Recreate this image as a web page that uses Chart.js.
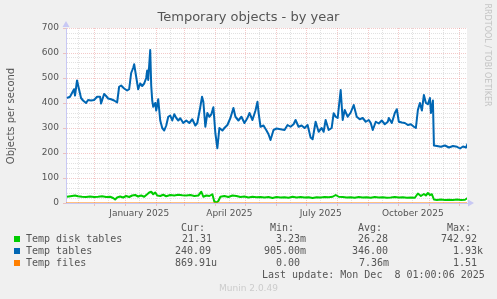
<!DOCTYPE html>
<html>
<head>
<meta charset="utf-8">
<script src="https://cdn.jsdelivr.net/npm/chart.js@4/dist/chart.umd.min.js"></script>
<style>
  body { margin: 0; background: #f0f0f0; }
  #wrap { position: relative; width: 497px; height: 299px; overflow: hidden; background: #f0f0f0; }
  #chart { position: absolute; left: 0; top: 0; }
  .t { position: absolute; white-space: pre; color: #555; }
  .mono { font-family: "DejaVu Sans Mono", monospace; font-size: 10px; line-height: 12px; }
  .sq { position: absolute; width: 6px; height: 6px; }
</style>
</head>
<body>
<div id="wrap">
  <canvas id="chart" width="497" height="299"></canvas>
  <div class="t" id="title" style="left:0;width:497px;text-align:center;top:9px;font:13px 'DejaVu Sans';">Temporary objects - by year</div>
  <div class="t" style="left:-45px;top:110px;width:112px;text-align:center;font:10px 'DejaVu Sans';line-height:12px;transform:rotate(-90deg);">Objects per second</div>
  <div class="t" style="left:432px;top:50px;width:110px;text-align:center;font:8px 'DejaVu Sans';line-height:10px;color:#c4c4c4;transform:rotate(90deg);">RRDTOOL / TOBI OETIKER</div>

  <div class="sq" style="left:14px;top:236px;background:#00cc00"></div>
  <div class="sq" style="left:14px;top:248px;background:#0066b3"></div>
  <div class="sq" style="left:14px;top:260px;background:#ff8000"></div>

  <div class="t mono" style="left:26px;top:233px">Temp disk tables</div>
  <div class="t mono" style="left:26px;top:245px">Temp tables</div>
  <div class="t mono" style="left:26px;top:257px">Temp files</div>

  <div class="t mono" style="left:181px;top:222px">Cur:</div>
  <div class="t mono" style="left:270px;top:222px">Min:</div>
  <div class="t mono" style="left:358px;top:222px">Avg:</div>
  <div class="t mono" style="left:447px;top:222px">Max:</div>

  <div class="t mono" style="left:182px;top:233px">21.31</div>
  <div class="t mono" style="left:276px;top:233px">3.23m</div>
  <div class="t mono" style="left:358px;top:233px">26.28</div>
  <div class="t mono" style="left:441px;top:233px">742.92</div>

  <div class="t mono" style="left:175px;top:245px">240.09</div>
  <div class="t mono" style="left:264px;top:245px">905.00m</div>
  <div class="t mono" style="left:352px;top:245px">346.00</div>
  <div class="t mono" style="left:453px;top:245px">1.93k</div>

  <div class="t mono" style="left:175px;top:257px">869.91u</div>
  <div class="t mono" style="left:276px;top:257px">0.00</div>
  <div class="t mono" style="left:359px;top:257px">7.36m</div>
  <div class="t mono" style="left:453px;top:257px">1.51</div>

  <div class="t mono" style="left:262px;top:269px">Last update: Mon Dec  8 01:00:06 2025</div>
  <div class="t" style="left:0;width:497px;text-align:center;top:283px;font:9px 'DejaVu Sans';color:#cccccc;">Munin 2.0.49</div>
</div>
<script>
// days counted from Nov 3 2024 (start of the 400 day window)
const monthStartDays = [28, 59, 90, 118, 149, 179, 210, 240, 271, 302, 332, 363, 393];
const midMonthDays = [12, 42, 73, 104, 132, 163, 193, 224, 254, 285, 316, 346, 377];
const labelDays = [73, 163, 254, 346];
const labelTexts = ['January 2025', 'April 2025', 'July 2025', 'October 2025'];

const tablesDays = [1, 4, 6, 8, 9, 11, 13, 15, 17, 20, 22, 25, 28, 31, 34, 35, 38, 40, 42, 45, 48, 51,
  53, 55, 58, 61, 63, 65, 67, 68, 70, 72, 74, 76, 78, 80, 81, 82, 84, 85, 86, 87, 89, 90, 92,
  94, 96, 98, 100, 102, 104, 106, 108, 110, 112, 114, 117, 120, 123, 126, 129, 131, 134, 135.7,
  137, 139, 141, 143, 145, 147, 149, 151, 153, 156, 158, 161, 164, 167, 169, 172, 175, 178, 181,
  183, 186, 189, 191, 192, 194, 197, 200, 202, 204, 207, 210, 214, 218, 221, 224, 227, 229, 232,
  235, 238, 241, 244, 246, 249, 252, 255, 257, 259, 262, 265, 267, 269, 271, 274, 276, 278, 281,
  284, 287, 290, 293, 296, 299, 302, 304, 306, 309, 312, 315, 318, 321, 322, 325, 328, 330, 332,
  335, 338, 341, 344, 347, 349, 351, 353, 355, 357, 359, 361, 363, 364, 366, 367, 370, 374, 378,
  382, 386, 390, 393, 396, 399, 401];
const tablesValues = [420, 425, 440, 455, 430, 490, 455, 420, 410, 400, 412, 410, 412, 425, 425, 398,
  436, 428, 418, 415, 410, 402, 465, 470, 458, 450, 455, 520, 540, 555, 505, 455, 478, 468, 478,
  500, 530, 492, 612, 470, 410, 385, 400, 370, 415, 330, 300, 290, 310, 345, 350, 330, 355, 340,
  330, 339, 320, 330, 320, 335, 310, 320, 385, 425, 405, 305, 360, 345, 355, 383, 279, 219, 300,
  290, 300, 312, 340, 380, 345, 330, 345, 320, 340, 360, 332, 370, 405, 365, 305, 310, 290, 275,
  252, 292, 298, 295, 292, 312, 305, 315, 332, 305, 310, 300, 312, 262, 255, 325, 285, 300, 285,
  332, 292, 300, 359, 345, 340, 452, 332, 372, 345, 362, 392, 345, 335, 340, 325, 332, 320, 292,
  325, 318, 330, 315, 325, 340, 320, 360, 375, 325, 322, 320, 312, 315, 305, 300, 372, 400, 370,
  432, 400, 395, 420, 360, 410, 230, 228, 225, 230, 222, 228, 225, 218, 226, 222, 240];

const diskDays = [1, 6, 9, 12, 16, 20, 24, 28, 32, 36, 40, 44, 47, 49, 51, 54, 57, 60, 63, 66, 69,
  72, 75, 78, 81, 83, 85, 87, 89, 91, 94, 97, 100, 104, 108, 112, 116, 120, 124, 128, 132, 135, 137,
  140, 143, 146, 148, 150, 152, 154, 158, 162, 166, 170, 174, 178, 182, 186, 190, 194, 198, 202,
  206, 210, 214, 218, 222, 226, 230, 234, 238, 242, 246, 250, 254, 258, 262, 266, 269, 272, 276,
  280, 284, 288, 292, 296, 300, 304, 308, 312, 316, 320, 324, 328, 332, 336, 340, 344, 348, 351,
  354, 357, 359, 361, 363, 365, 367, 370, 374, 378, 382, 386, 390, 394, 398, 401];
const diskValues = [25, 28, 30, 27, 25, 24, 26, 24, 25, 27, 24, 25, 20, 14, 22, 26, 22, 28, 24, 30,
  32, 26, 30, 25, 35, 42, 45, 35, 42, 30, 28, 33, 27, 32, 30, 33, 31, 30, 32, 28, 30, 45, 25, 30,
  28, 35, 5, 2, 8, 25, 28, 24, 30, 28, 24, 26, 22, 25, 23, 24, 22, 24, 20, 24, 22, 23, 21, 25, 22,
  24, 22, 23, 20, 23, 22, 24, 23, 25, 32, 25, 24, 22, 23, 21, 24, 22, 23, 21, 24, 22, 23, 21, 22,
  24, 22, 23, 21, 22, 21, 38, 28, 36, 30, 40, 32, 35, 14, 12, 14, 12, 13, 12, 14, 12, 13, 21];

const filesDays = [0, 400];
const filesValues = [0, 0];

const pts = (xs, ys) => xs.map((x, i) => ({ x: x, y: ys[i] }));

const RED = 'rgba(225,120,120,0.4)';
const GREY = 'rgba(170,170,170,0.35)';
const AXIS = '#c8c8f4';

const arrows = {
  id: 'arrows',
  afterDraw(chart) {
    const a = chart.chartArea, ctx = chart.ctx;
    ctx.save();
    ctx.fillStyle = AXIS;
    ctx.beginPath();
    ctx.moveTo(a.left - 3.5, a.top - 1);
    ctx.lineTo(a.left + 3.5, a.top - 1);
    ctx.lineTo(a.left, a.top - 7);
    ctx.fill();
    ctx.beginPath();
    ctx.moveTo(a.right + 1, a.bottom - 3.5);
    ctx.lineTo(a.right + 1, a.bottom + 3.5);
    ctx.lineTo(a.right + 7, a.bottom);
    ctx.fill();
    ctx.restore();
  }
};

const bg = {
  id: 'bg',
  beforeDraw(chart) {
    const a = chart.chartArea, ctx = chart.ctx;
    ctx.save();
    ctx.fillStyle = '#ffffff';
    ctx.fillRect(a.left, a.top, a.right - a.left, a.bottom - a.top);
    ctx.restore();
  }
};

Chart.defaults.font.family = 'DejaVu Sans';
Chart.defaults.font.size = 9;
Chart.defaults.color = '#555555';

new Chart(document.getElementById('chart').getContext('2d'), {
  type: 'line',
  data: {
    datasets: [
      { label: 'Temp files', data: pts(filesDays, filesValues), borderColor: '#ff8000', borderWidth: 1 },
      { label: 'Temp tables', data: pts(tablesDays, tablesValues), borderColor: '#0066b3', borderWidth: 2 },
      { label: 'Temp disk tables', data: pts(diskDays, diskValues), borderColor: '#00cc00', borderWidth: 2 }
    ]
  },
  options: {
    responsive: false,
    devicePixelRatio: 1,
    animation: false,
    events: [],
    layout: { padding: { left: 20, right: 30, top: 28, bottom: 76 } },
    elements: { point: { radius: 0 }, line: { tension: 0, borderJoinStyle: 'round' } },
    plugins: { legend: { display: false }, tooltip: { enabled: false } },
    scales: {
      x: {
        type: 'linear',
        min: 0,
        max: 400,
        afterFit: (s) => { s.height = 20; },
        afterBuildTicks: (s) => {
          s.ticks = monthStartDays.concat(midMonthDays).sort((a, b) => a - b).map(v => ({ value: v }));
        },
        ticks: {
          autoSkip: false,
          maxRotation: 0,
          padding: 2,
          callback: (v) => {
            const i = labelDays.indexOf(v);
            return i >= 0 ? labelTexts[i] : '';
          }
        },
        grid: {
          color: (c) => monthStartDays.includes(c.tick.value) ? RED : GREY,
          tickColor: (c) => monthStartDays.includes(c.tick.value) ? RED : 'rgba(0,0,0,0)',
          tickLength: 3,
          tickBorderDash: []
        },
        border: { color: AXIS, dash: [1, 1] }
      },
      y: {
        min: 0,
        max: 700,
        afterFit: (s) => { s.width = 46; },
        ticks: {
          stepSize: 20,
          maxTicksLimit: 100,
          autoSkip: false,
          padding: 4,
          callback: (v) => v % 100 === 0 ? v : ''
        },
        grid: {
          color: (c) => c.tick.value % 100 === 0 ? RED : GREY,
          tickColor: (c) => c.tick.value % 100 === 0 ? RED : 'rgba(0,0,0,0)',
          tickLength: 3,
          tickBorderDash: []
        },
        border: { color: AXIS, dash: [1, 1] }
      }
    }
  },
  plugins: [bg, arrows]
});
</script>
</body>
</html>
